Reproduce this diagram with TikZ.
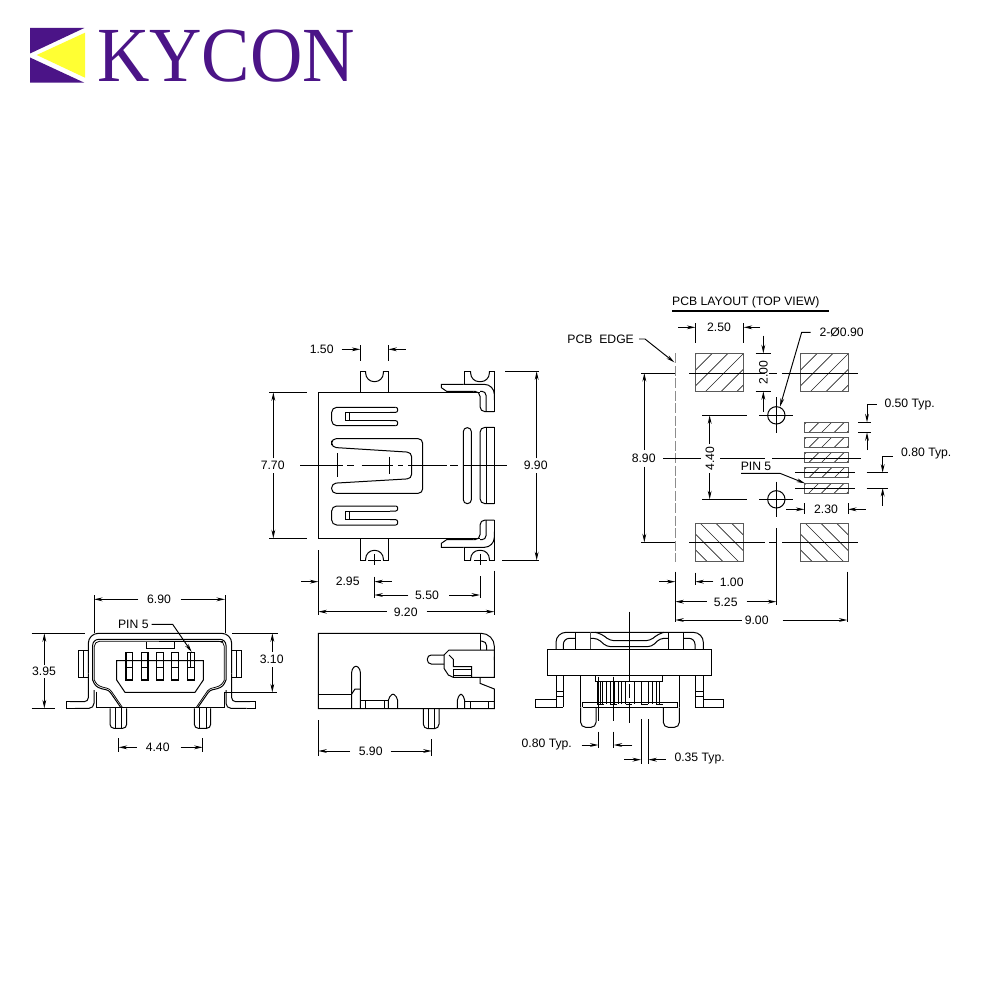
\documentclass[tikz,border=0pt]{standalone}
\usepackage{fontspec}
\setmainfont{Liberation Sans}
\newfontfamily\logofont{Liberation Serif}
\usetikzlibrary{arrows.meta}
\definecolor{kypurple}{HTML}{4B1487}
\definecolor{kyyellow}{HTML}{FFFF33}
\tikzset{
  lbl/.style={font=\fontsize{12.2}{14}\selectfont,inner sep=0pt,text=black},
  ln/.style={line width=1pt,black},
  arr/.style={line width=.95pt,black,-{Stealth[length=8.5pt,width=3.8pt]}},
  hatchline/.style={line width=.65pt,black!85},
  padline/.style={line width=1pt,black!65},
  zoomA/.style={shift={(250pt,-330pt)},x=.33333pt,y=-.33333pt},
  zoomB/.style={shift={(560pt,-290pt)},x=.33333pt,y=-.33333pt},
  zoomC/.style={shift={(20pt,-590pt)},x=.33333pt,y=-.33333pt},
  zoomD/.style={shift={(300pt,-620pt)},x=.33333pt,y=-.33333pt},
  zoomE/.style={shift={(510pt,-610pt)},x=.33333pt,y=-.33333pt},
}
\newcommand{\padup}[6]{% x1 y1 x2 y2 cstart spacing
  \begin{scope}
    \clip (#1,#2) rectangle (#3,#4);
    \foreach \c in {0,1,...,24}{\draw[hatchline] ({#5+\c*#6},0)--(0,{#5+\c*#6});}
  \end{scope}
  \draw[padline] (#1,#2) rectangle (#3,#4);}
\newcommand{\paddown}[6]{%
  \begin{scope}
    \clip (#1,#2) rectangle (#3,#4);
    \foreach \c in {0,1,...,16}{\draw[hatchline] ({#5+\c*#6},0)--({#5+\c*#6+1000},1000);}
  \end{scope}
  \draw[padline] (#1,#2) rectangle (#3,#4);}
\begin{document}
\begin{tikzpicture}[x=1pt,y=-1pt]
\useasboundingbox (0,0) rectangle (984,984);
\fill[white] (0,0) rectangle (984,984);
% ---------- logo
\fill[kypurple] (30,28)--(84.3,28)--(30,53.5)--cycle;
\fill[kypurple] (30,57.5)--(84.3,82.7)--(30,82.7)--cycle;
\fill[kyyellow] (36.7,55)--(85,32.7)--(85,77.7)--cycle;
\node[anchor=base west,inner sep=0pt,text=kypurple] (logotext) at (97,81.5)
  {\scalebox{.93}[1]{\logofont\fontsize{78}{80}\selectfont KYCON}};
% ---------- top view
\begin{scope}[zoomA,ln]
  \draw (690,187)--(205,187)--(205,626)--(690,626);
  % left tabs
  \draw (331,187)--(331,124)--(347,124);
  \draw (415,187)--(415,124)--(400,124);
  \draw[rounded corners=8.5pt] (347,124)--(347,155)--(400,155)--(400,124);
  \draw (331,626)--(331,691)--(347,691);
  \draw (415,626)--(415,691)--(400,691);
  \draw[rounded corners=8.5pt] (347,691)--(347,661)--(400,661)--(400,691);
  \draw (373,672)--(373,705) (354,691)--(392,691);
  % right tabs
  \draw (643,163)--(643,124)--(662,124);
  \draw (733,245)--(733,124)--(718,124);
  \draw[rounded corners=8.5pt] (662,124)--(662,155)--(718,155)--(718,124);
  \draw (643,652)--(643,691)--(662,691);
  \draw (733,570)--(733,691)--(718,691);
  \draw[rounded corners=8.5pt] (662,691)--(662,661)--(718,661)--(718,691);
  \draw (690,672)--(690,705) (672,691)--(710,691);
  % hooks
  \draw[rounded corners=10pt] (640,163)--(733,163)--(733,210);
  \draw (640,163)--(574,163)--(574,173)--(590,184)--(670,184);
  \draw[rounded corners=5pt] (670,184)--(690,184)--(690,245)--(733,245);
  \draw[rounded corners=4pt] (690,184)--(708,184)--(708,245);
  \draw[rounded corners=10pt] (640,652)--(733,652)--(733,605);
  \draw (640,652)--(574,652)--(574,640)--(590,629)--(670,629);
  \draw[rounded corners=5pt] (670,629)--(690,629)--(690,570)--(733,570);
  \draw[rounded corners=4pt] (690,629)--(708,629)--(708,570);
  % right rail
  \draw (733,292)--(733,521);
  \draw[rounded corners=5pt] (733,292)--(690,292)--(690,521)--(733,521);
  \draw (708,292)--(708,521);
  \draw[rounded corners=3.9pt] (640,293) rectangle (664,521);
  % upper slot
  \draw[rounded corners=5pt] (436,232)--(245,232)--(245,287)--(436,287);
  \draw[rounded corners=2pt] (436,232)--(443,232)--(443,247)--(420,247);
  \draw[rounded corners=2pt] (436,287)--(443,287)--(443,272)--(420,272);
  \draw (420,247)--(285,247)--(285,272)--(420,272);
  \draw (297,247)--(297,272);
  % lower slot
  \draw[rounded corners=5pt] (436,528)--(245,528)--(245,585)--(436,585);
  \draw[rounded corners=2pt] (436,528)--(443,528)--(443,543)--(420,543);
  \draw[rounded corners=2pt] (436,585)--(443,585)--(443,569)--(420,569);
  \draw (420,543)--(285,543)--(285,569)--(420,569);
  \draw (297,543)--(297,569);
  % centre U
  \draw[rounded corners=4.5pt] (300,326)--(518,326)--(518,490)--(245,490)--(245,460)--(485,446)--(485,367)--(245,352)--(245,326)--cycle;
  % centre lines
  \draw (150,406)--(278,406) (292,406)--(312,406) (335,406)--(430,406) (445,406)--(460,406) (475,406)--(590,406) (600,406)--(625,406) (640,406)--(770,406);
  \draw (262,370)--(262,442) (418,380)--(418,432);
  % dimension lines
  \draw (331,45)--(331,92) (415,45)--(415,92);
  \draw[arr] (275,58)--(331,58);
  \draw[arr] (467,58)--(415,58);
  \node[lbl] (dimA) at (215,58) {1.50};
  \draw (58,187)--(170,187) (58,625)--(170,625);
  \draw[arr] (70,385)--(70,187);
  \draw[arr] (70,430)--(70,625);
  \node[lbl] (dimB) at (68,405) {7.70};
  \draw (765,124)--(868,124) (757,691)--(868,691);
  \draw[arr] (860,385)--(860,124);
  \draw[arr] (860,430)--(860,691);
  \node[lbl] (dimC) at (857,405) {9.90};
  \draw (205,660)--(205,855) (373,740)--(373,805) (690,738)--(690,805) (733,722)--(733,855);
  \draw[arr] (153,755)--(205,755);
  \draw[arr] (425,755)--(373,755);
  \node[lbl] (dimD) at (293,755) {2.95};
  \draw[arr] (475,795)--(373,795);
  \draw[arr] (597,795)--(690,795);
  \node[lbl] (dimE) at (531,795) {5.50};
  \draw[arr] (410,845)--(205,845);
  \draw[arr] (530,845)--(733,845);
  \node[lbl] (dimF) at (467,847) {9.20};
\end{scope}
% ---------- PCB layout
\node[lbl,anchor=west] (pcbtitle) at (672,302.7) {PCB LAYOUT (TOP VIEW)};
\draw[line width=2pt] (672,311.3)--(829,311.3);
\begin{scope}[zoomB,ln]
  \padup{406}{190}{551}{304}{600}{47}
  \padup{721}{190}{864}{304}{915}{47}
  \paddown{406}{700}{551}{815}{-420}{47}
  \paddown{721}{700}{864}{815}{-105}{47}
  \padup{733}{397}{864}{427}{1136}{38}
  \padup{733}{442}{864}{472}{1181}{38}
  \padup{733}{487}{864}{517}{1226}{38}
  \padup{733}{533}{864}{563}{1272}{38}
  \padup{733}{579}{864}{610}{1318}{38}
  % PCB edge
  \draw[line width=1.3pt,black!45,dash pattern=on 10pt off 2.5pt] (347,190)--(347,815);
  % centre lines
  \draw (243,249)--(345,249) (388,249)--(615,249) (628,249)--(652,249) (665,249)--(893,249);
  \draw (243,757)--(345,757) (388,757)--(615,757) (628,757)--(652,757) (667,757)--(893,757);
  \draw (310,505)--(424,505) (480,505)--(615,505) (637,505)--(903,505);
  \draw (705,548)--(885,548) (705,594)--(885,594) (920,548)--(983,548) (920,594)--(983,594);
  % holes
  \draw (649,376) circle[radius=8.7pt];
  \draw (649,628) circle[radius=8.7pt];
  \draw (598,376)--(700,376) (649,322)--(649,430);
  \draw (598,628)--(700,628) (649,575)--(649,682) (649,715)--(649,945);
  % 2.50
  \draw (406,100)--(406,158) (551,100)--(551,158);
  \draw[arr] (355,112)--(406,112);
  \draw[arr] (600,112)--(551,112);
  \node[lbl] (pA) at (477,112) {2.50};
  % 2.00
  \draw (587,190)--(632,190) (587,304)--(632,304);
  \draw[arr] (610,137)--(610,190);
  \draw[arr] (610,365)--(610,304);
  \node[lbl,rotate=90] (pB) at (610,247) {2.00};
  % 2-dia
  \node[lbl] (pC) at (845,127) {2-Ø0.90};
  \draw[arr] (752,127)--(725,127)--(660,350);
  % PCB edge label
  \node[lbl] (pD) at (122,147) {PCB\ \ EDGE};
  \draw[arr] (237,147)--(255,147)--(343,217);
  % 8.90
  \draw[arr] (253,480)--(253,249);
  \draw[arr] (253,530)--(253,757);
  \node[lbl] (pE) at (251,505) {8.90};
  % 4.40
  \draw (427,376)--(562,376) (427,628)--(562,628);
  \draw[arr] (449,462)--(449,376);
  \draw[arr] (449,550)--(449,628);
  \node[lbl,rotate=90] (pF) at (450,505) {4.40};
  % 0.50
  \node[lbl,anchor=west] (pG) at (972,344) {0.50 Typ.};
  \draw (894,397)--(933,397) (894,427)--(933,427);
  \draw[arr] (950,344)--(921,344)--(921,397);
  \draw[arr] (921,480)--(921,427);
  % 0.80
  \node[lbl,anchor=west] (pH) at (1022,492) {0.80 Typ.};
  \draw[arr] (998,500)--(968,500)--(968,548);
  \draw[arr] (968,647)--(968,594);
  % 2.30
  \draw (733,640)--(733,672) (864,640)--(864,672);
  \draw[arr] (678,658)--(733,658);
  \draw[arr] (917,658)--(864,658);
  \node[lbl] (pI) at (798,658) {2.30};
  % PIN 5
  \node[lbl] (pJ) at (588,530) {PIN 5};
  \draw[arr] (543,550)--(660,550)--(735,580);
  % bottom dims
  \draw (346,845)--(346,995) (406,848)--(406,885) (862,845)--(862,995);
  \draw[arr] (297,875)--(346,875);
  \draw[arr] (460,875)--(406,875);
  \node[lbl] (pK) at (515,877) {1.00};
  \draw[arr] (440,935)--(346,935);
  \draw[arr] (560,935)--(649,935);
  \node[lbl] (pL) at (497,937) {5.25};
  \draw[arr] (545,990)--(346,990);
  \draw[arr] (668,990)--(862,990);
  \node[lbl] (pM) at (590,990) {9.00};
\end{scope}
% ---------- front view
\begin{scope}[zoomC,ln]
  \draw[rounded corners=10pt] (205,250)--(205,130)--(635,130)--(635,250);
  \draw[rounded corners=4pt] (205,250)--(205,335)--(150,335);
  \draw (150,335)--(140,335)--(140,355)--(165,355);
  \draw[rounded corners=5pt] (165,355)--(222,355)--(222,300);
  \draw[rounded corners=4pt] (635,250)--(635,335)--(690,335);
  \draw (690,335)--(705,335)--(705,355)--(680,355);
  \draw[rounded corners=5pt] (680,355)--(618,355)--(618,300);
  \draw (228,305)--(228,355);
  \draw (613,305)--(613,355);
  \draw[line width=1.2pt] (228,353)--(613,353);
  % shell
  \draw[rounded corners=6pt] (218,270)--(218,148)--(618,148)--(618,270);
  \draw[rounded corners=3pt] (218,270)--(226,288)--(245,297)--(266,300)--(302,352);
  \draw[rounded corners=3pt] (618,270)--(610,288)--(591,297)--(570,300)--(534,352);
  \draw[rounded corners=5pt,line width=.75pt] (223,270)--(223,154)--(613,154)--(613,270);
  \draw[rounded corners=3pt,line width=.75pt] (223,270)--(230,284)--(248,292)--(269,296)--(307,352);
  \draw[rounded corners=3pt,line width=.75pt] (613,270)--(606,284)--(588,292)--(567,296)--(529,352);
  % key
  \draw (380,155)--(380,175)--(463,175)--(463,155);
  \draw[line width=1.4pt] (418,155)--(610,155);
  % side tabs
  \draw (205,182)--(175,182)--(175,262)--(205,262) (190,182)--(190,262);
  \draw (635,182)--(665,182)--(665,262)--(635,262) (650,182)--(650,262);
  % insert
  \draw (290,212)--(550,212)--(550,270)--(525,307)--(315,307)--(290,270)--cycle;
  \foreach \p in {328,374,420,465,513}{
    \draw[line width=1.1pt] ({\p-10},188) rectangle ({\p+10},270);
    \draw ({\p-10},233)--({\p+10},233);
  }
  \draw[line width=1.4pt] (320,188)--(320,233) (512,188)--(512,233);
  % feet
  \draw[rounded corners=4pt] (270,355)--(270,415)--(320,415)--(320,355);
  \draw (285,355)--(285,415) (305,355)--(305,415);
  \draw[rounded corners=4pt] (523,355)--(523,415)--(572,415)--(572,355);
  \draw (538,355)--(538,415) (558,355)--(558,415);
  % dims
  \draw (222,15)--(222,130) (615,15)--(615,130);
  \draw[arr] (355,28)--(222,28);
  \draw[arr] (482,28)--(615,28);
  \node[lbl] (fA) at (417,28) {6.90};
  \node[lbl] (fB) at (340,103) {PIN 5};
  \draw[arr] (395,103)--(458,103)--(515,186);
  \draw (35,130)--(195,130) (35,355)--(105,355);
  \draw[arr] (73,225)--(73,130);
  \draw[arr] (73,265)--(73,355);
  \node[lbl] (fC) at (72,243) {3.95};
  \draw (637,130)--(775,130) (615,307)--(770,307);
  \draw[arr] (757,185)--(757,130);
  \draw[arr] (757,232)--(757,307);
  \node[lbl] (fD) at (755,207) {3.10};
  \draw (296,445)--(296,485) (548,445)--(548,485);
  \draw[arr] (350,472)--(296,472);
  \draw[arr] (482,472)--(548,472);
  \node[lbl] (fE) at (413,472) {4.40};
\end{scope}
% ---------- side view
\begin{scope}[zoomD,ln]
  \draw[rounded corners=13pt] (300,40)--(583,40)--(583,120);
  \draw (300,40)--(55,40)--(55,266)--(583,266)--(583,207)--(540,190)--(540,172);
  \draw (583,110)--(583,172)--(515,172)--(515,140)--(460,140)--(460,118)--(447,105);
  \draw (583,90)--(447,90)--(432,105)--(432,145)--(445,165)--(460,172)--(515,172);
  \draw (460,148)--(515,148) (460,165)--(515,165) (460,148)--(460,172);
  \draw[rounded corners=4pt] (432,105)--(382,105)--(382,132)--(432,132);
  \draw (540,40)--(540,90);
  \draw[rounded corners=5pt] (540,63)--(560,63)--(560,90);
  % posts
  \draw (55,222)--(155,222);
  \draw[rounded corners=3pt] (155,266)--(155,148)--(168,135)--(181,148)--(181,266);
  \draw (155,222)--(165,207)--(181,207);
  \draw (181,242)--(265,242) (197,242)--(197,266) (253,242)--(253,266);
  \draw[rounded corners=2pt] (265,266)--(265,235)--(279,220)--(293,235)--(293,266);
  \draw[rounded corners=2pt] (472,266)--(472,235)--(483,220)--(494,235)--(494,266);
  \draw (494,243)--(583,243) (512,243)--(512,266) (565,243)--(565,266);
  % foot
  \draw[rounded corners=4.5pt] (370,266)--(370,326)--(417,326)--(417,266);
  \draw (384,266)--(384,326) (402,266)--(402,326);
  % dim
  \draw (55,300)--(55,408) (395,358)--(395,408);
  \draw[arr] (150,393)--(55,393);
  \draw[arr] (272,393)--(395,393);
  \node[lbl] (sA) at (212,395) {5.90};
\end{scope}
% ---------- rear view
\begin{scope}[zoomE,ln]
  \draw (112,118) rectangle (605,196);
  \draw[rounded corners=10pt] (138,118)--(138,67)--(580,67)--(580,118);
  \draw[rounded corners=6pt] (160,118)--(160,85)--(197,85);
  \draw (197,67)--(197,118);
  \draw (520,67)--(520,118);
  \draw[rounded corners=6pt] (520,85)--(555,85)--(555,118);
  \draw[line width=1pt,black!70] (242,67)--(242,118);
  \draw (475,67)--(475,118);
  \draw[rounded corners=4pt] (242,85)--(262,85)--(290,110)--(425,110)--(450,85)--(475,85);
  \draw[rounded corners=4pt] (255,67)--(275,72)--(300,92)--(420,92)--(445,72)--(462,67);
  % legs
  \draw (138,196)--(138,292) (160,196)--(160,292) (138,245)--(160,245) (138,258)--(160,258);
  \draw (555,196)--(555,292) (580,196)--(580,292) (555,245)--(580,245) (555,258)--(580,258);
  \draw (138,268)--(76,268)--(76,292)--(160,292);
  \draw (580,268)--(640,268)--(640,292)--(555,292);
  % feet
  \draw[rounded corners=5pt] (212,292)--(212,352)--(258,352)--(258,292);
  \draw[rounded corners=5pt] (460,292)--(460,352)--(508,352)--(508,292);
  \draw (212,196)--(212,292) (508,196)--(508,292);
  % insert
  \draw (257,196)--(257,215)--(458,215)--(458,196);
  \draw (218,292)--(218,277)--(503,277)--(503,292);
  \draw (218,292)--(503,292);
  \foreach \f in {262,270,278,290,300,312,325,335,347,372,393,415,427,438,447}{\draw[line width=.75pt] (\f,215)--(\f,282);}
  \foreach \f in {262,300,347,393,438}{\draw[line width=.75pt] (\f,282)--({\f+20},282);}
  % centre line
  \draw (358,5)--(358,215) (358,222)--(358,265) (358,280)--(358,340);
  % dims
  \draw (265,200)--(265,332) (310,200)--(310,332);
  \draw (265,365)--(265,415) (310,365)--(310,415);
  \draw[arr] (215,405)--(265,405);
  \draw[arr] (367,405)--(311,405);
  \node[lbl,anchor=east] (rA) at (187,405) {0.80 Typ.};
  \draw (393,328)--(393,462) (415,328)--(415,462);
  \draw[arr] (342,449)--(393,449);
  \draw[arr] (467,449)--(415,449);
  \node[lbl,anchor=west] (rB) at (492,447) {0.35 Typ.};
\end{scope}
\end{tikzpicture}
\end{document}
